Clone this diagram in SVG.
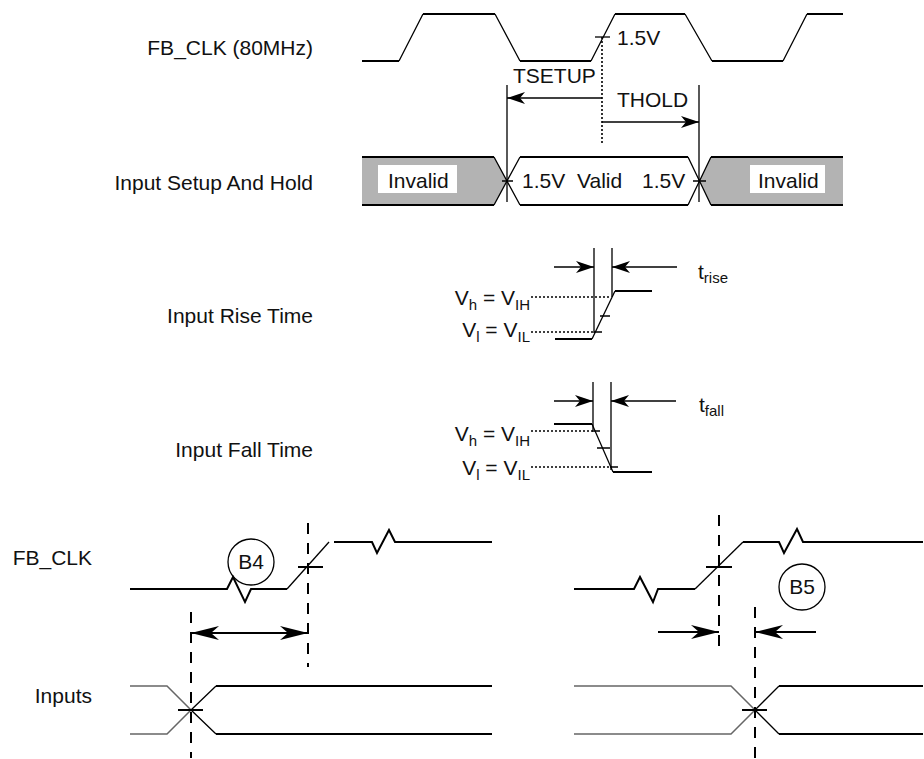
<svg xmlns="http://www.w3.org/2000/svg" width="924" height="759" viewBox="0 0 924 759">
<style>
text{font-family:"Liberation Sans",Arial,sans-serif;font-size:21px;fill:#111}
.fl{fill:none;stroke:#000;stroke-width:2}
.sl{fill:none;stroke:#000;stroke-width:1.3}
.gr{fill:none;stroke:#666;stroke-width:1.5}
.dot{fill:none;stroke:#000;stroke-width:1.6;stroke-dasharray:2,2}
.dash{fill:none;stroke:#000;stroke-width:2;stroke-dasharray:11,9}
.sub{font-size:15px}
</style>
<defs>
<marker id="ah" viewBox="0 0 18 12" refX="18" refY="6" markerWidth="18" markerHeight="12" markerUnits="userSpaceOnUse" orient="auto-start-reverse">
<path d="M0,0 L18,6 L0,12 L5,6 Z" fill="#000"/>
</marker>
<marker id="ahb" viewBox="0 0 28 14" refX="28" refY="7" markerWidth="28" markerHeight="14" markerUnits="userSpaceOnUse" orient="auto-start-reverse">
<path d="M0,0 L28,7 L0,14 L8,7 Z" fill="#000"/>
</marker>
</defs>
<rect width="924" height="759" fill="#fff"/>

<g id="labels">
<text x="313" y="55" text-anchor="end">FB_CLK (80MHz)</text>
<text x="313" y="190" text-anchor="end">Input Setup And Hold</text>
<text x="313" y="323" text-anchor="end">Input Rise Time</text>
<text x="313" y="457" text-anchor="end">Input Fall Time</text>
<text x="92" y="565" text-anchor="end">FB_CLK</text>
<text x="92" y="703" text-anchor="end">Inputs</text>
</g>

<g id="clk80">
<path class="fl" d="M362,61 H399 M423,14 H495 M520,61 H591 M615,14 H685 M712,61 H783 M807,14 H843"/>
<path class="sl" d="M399,61 L423,14 M495,14 L520,61 M591,61 L615,14 M685,14 L712,61 M783,61 L807,14"/>
<path class="sl" d="M595,37 H610"/>
<text x="617" y="45">1.5V</text>
</g>

<g id="setuphold">
<polygon points="362,157 494,157 507,181 494,205 362,205" fill="#b3b3b3"/>
<polygon points="711,157 843,157 843,205 711,205 699.5,181" fill="#b3b3b3"/>
<rect x="378" y="165" width="79" height="28" fill="#fff"/>
<rect x="750" y="165" width="75" height="28" fill="#fff"/>
<path class="fl" d="M362,157 H494 M362,205 H494 M520,157 H688 M520,205 H688 M711,157 H843 M711,205 H843"/>
<path class="sl" d="M494,157 L520,205 M494,205 L520,157 M688,157 L711,205 M688,205 L711,157"/>
<path class="sl" d="M502,181 H513 M693,181 H706"/>
<text x="388" y="188">Invalid</text>
<text x="522" y="188">1.5V</text>
<text x="577" y="188">Valid</text>
<text x="642" y="188">1.5V</text>
<text x="758" y="188">Invalid</text>
</g>

<g id="rise">
<path class="fl" d="M555,339 H592 M615,291 H652"/>
<path class="sl" d="M592,339 L615,291"/>
<path class="sl" d="M594,332 H602 M600,316 H610"/>
<path class="dot" d="M531,297 H610 M531,332 H595"/>
<text x="530" y="305" text-anchor="end">V<tspan class="sub" dy="5">h</tspan><tspan dy="-5"> = V</tspan><tspan class="sub" dy="5">IH</tspan></text>
<text x="530" y="337" text-anchor="end">V<tspan class="sub" dy="5">l</tspan><tspan dy="-5"> = V</tspan><tspan class="sub" dy="5">IL</tspan></text>
<text x="698" y="279">t<tspan class="sub" dy="4">rise</tspan></text>
</g>

<g id="fall">
<path class="fl" d="M554,424 H592 M613,472 H652"/>
<path class="sl" d="M592,424 L613,472"/>
<path class="sl" d="M592,431 H600 M597,448 H610 M610,467 H618"/>
<path class="dot" d="M531,431 H595 M531,467 H612"/>
<text x="530" y="441" text-anchor="end">V<tspan class="sub" dy="5">h</tspan><tspan dy="-5"> = V</tspan><tspan class="sub" dy="5">IH</tspan></text>
<text x="530" y="475" text-anchor="end">V<tspan class="sub" dy="5">l</tspan><tspan dy="-5"> = V</tspan><tspan class="sub" dy="5">IL</tspan></text>
<text x="699" y="412">t<tspan class="sub" dy="4">fall</tspan></text>
</g>

<g id="clkB4">
<path class="fl" d="M130,589 H227 L233,577 L245,602 L251,589 H287 M334,542 H372 L377,553 L389,530 L395,542 H492"/>
<path class="sl" d="M287,589 L329,542"/>
<path class="fl" d="M298,567 H323"/>
<circle cx="251" cy="562" r="23" fill="none" stroke="#000" stroke-width="1.3"/>
<text x="251" y="569" text-anchor="middle">B4</text>
</g>

<g id="clkB5">
<path class="fl" d="M574,589 H634 L640,577 L653,602 L658,589 H695 M743,542 H779 L784,553 L797,529 L803,542 H923"/>
<path class="sl" d="M695,589 L743,542"/>
<path class="fl" d="M706,567 H732"/>
<circle cx="802" cy="587" r="23" fill="none" stroke="#000" stroke-width="1.3"/>
<text x="802" y="594" text-anchor="middle">B5</text>
</g>

<g id="inputsL">
<path class="gr" d="M130,686 H167 L191,710 M130,734 H167 L191,710"/>
<path class="fl" d="M216,686 H492 M216,734 H492"/>
<path class="sl" d="M191,710 L216,734 M191,710 L216,686"/>
<path class="fl" d="M178,710 H203"/>
</g>

<g id="inputsR">
<path class="gr" d="M574,686 H731 L755,710 M574,734 H731 L755,710"/>
<path class="fl" d="M779,686 H923 M779,734 H923"/>
<path class="sl" d="M755,710 L779,734 M755,710 L779,686"/>
<path class="fl" d="M742,710 H767"/>
</g>

<g id="connectors">
<path class="dot" d="M602,37 V143"/>
<path class="sl" d="M507,85 V202 M699,85 V202"/>
<path class="sl" d="M602,98 H507" marker-end="url(#ah)"/>
<path class="sl" d="M602,122 H699" marker-end="url(#ah)"/>
<text x="513" y="83">TSETUP</text>
<text x="617" y="107">THOLD</text>

<path class="sl" d="M594,248 V333 M612,248 V297"/>
<path class="sl" d="M554,267 H594" marker-end="url(#ah)"/>
<path class="sl" d="M677,267 H612" marker-end="url(#ah)"/>

<path class="sl" d="M593,382 V430 M611,382 V470"/>
<path class="sl" d="M554,401 H593" marker-end="url(#ah)"/>
<path class="sl" d="M676,401 H611" marker-end="url(#ah)"/>

<path class="dash" d="M308,523 V667"/>
<path class="dash" d="M191,612 V758"/>
<path class="fl" d="M191,633 H308" marker-start="url(#ahb)" marker-end="url(#ahb)"/>

<path class="dash" d="M719,515 V655"/>
<path class="dash" d="M755,607 V758"/>
<path class="fl" d="M658,632 H719" marker-end="url(#ahb)"/>
<path class="fl" d="M816,632 H755" marker-end="url(#ahb)"/>
</g>
</svg>
